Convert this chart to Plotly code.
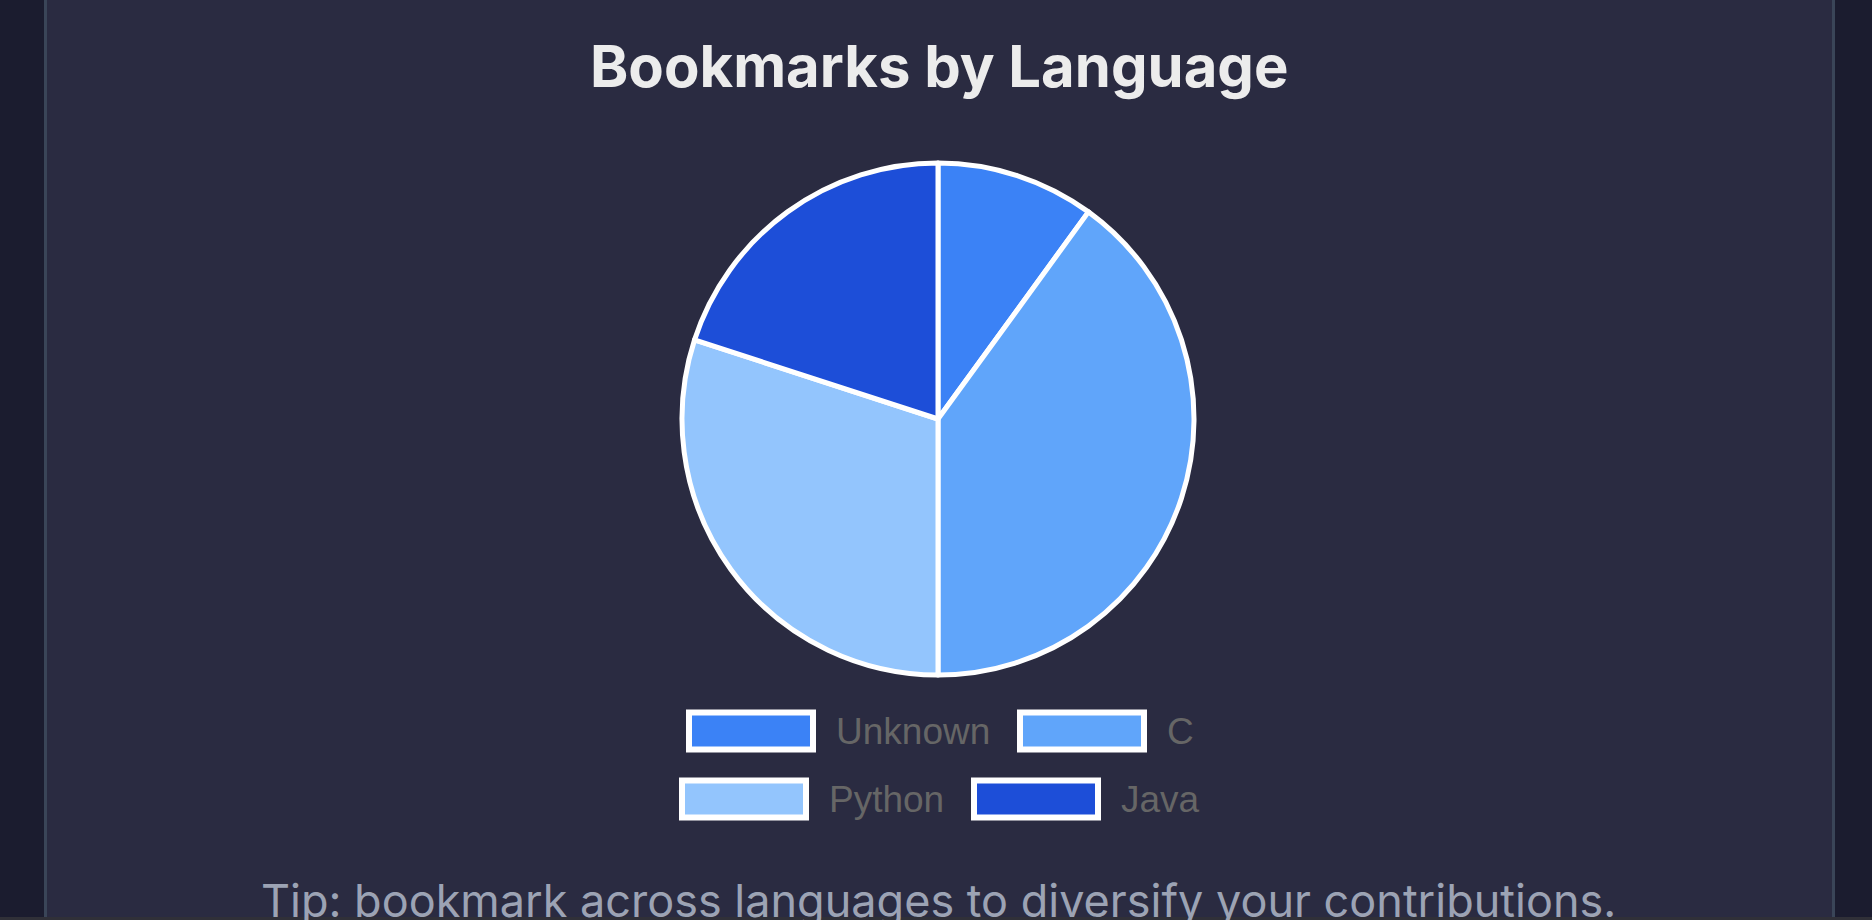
import plotly.graph_objects as go

# ---- data ----
languages = ["Unknown", "C", "Python", "Java"]
bookmarks = [1, 4, 3, 2]
slice_colors = ["#3b82f6", "#60a5fa", "#93c5fd", "#1d4ed8"]

title_text = "Bookmarks by Language"
tip_text = "Tip: bookmark across languages to diversify your contributions."

W, H = 1872, 920

def px(x):
    return x / W

def py(y):
    return 1 - y / H

# pie geometry (pixels)
cx, cy, r = 938, 419, 256

fig = go.Figure()
fig.add_trace(go.Pie(
    labels=languages,
    values=bookmarks,
    sort=False,
    direction="clockwise",
    rotation=0,
    marker=dict(colors=slice_colors, line=dict(color="#ffffff", width=5)),
    textinfo="none",
    hoverinfo="label+value+percent",
    showlegend=False,
    domain=dict(x=[px(cx - r), px(cx + r)], y=[py(cy + r), py(cy - r)]),
))

shapes = []
annotations = []

# card background
shapes.append(dict(type="rect", xref="paper", yref="paper", layer="below",
                   x0=px(45.5), x1=px(1833.5), y0=py(930), y1=py(-10),
                   fillcolor="#2a2b41", line=dict(color="#3a4558", width=3)))
# bottom strip
shapes.append(dict(type="rect", xref="paper", yref="paper", layer="above",
                   x0=0, x1=1, y0=0, y1=py(917),
                   fillcolor="#303038", line=dict(width=0)))

# legend (manual, chart.js style boxes)
legend_layout = [  # (box_left_px, row_center_px) for each language in order
    (689, 731),
    (1020, 731),
    (682, 799),
    (974, 799),
]
box_w, box_h = 124, 37
for lang, col, (bx, by) in zip(languages, slice_colors, legend_layout):
    shapes.append(dict(type="rect", xref="paper", yref="paper", layer="above",
                       x0=px(bx), x1=px(bx + box_w),
                       y0=py(by + box_h / 2), y1=py(by - box_h / 2),
                       fillcolor=col, line=dict(color="#ffffff", width=6)))
    annotations.append(dict(xref="paper", yref="paper", x=px(bx + box_w + 21), y=py(by),
                            xanchor="left", yanchor="middle", showarrow=False,
                            text=lang,
                            font=dict(family="Liberation Sans, Arial, sans-serif",
                                      size=37, color="#666666")))

# title
annotations.append(dict(xref="paper", yref="paper", x=px(939), y=py(66),
                        xanchor="center", yanchor="middle", showarrow=False,
                        text="<b>" + title_text + "</b>",
                        font=dict(family="Inter, sans-serif", size=58, color="#ececec")))
# tip
annotations.append(dict(xref="paper", yref="paper", x=px(938), y=py(900),
                        xanchor="center", yanchor="middle", showarrow=False,
                        text=tip_text,
                        font=dict(family="Inter, sans-serif", size=45, color="#9ca3b4")))

fig.update_layout(
    width=W, height=H,
    margin=dict(l=0, r=0, t=0, b=0),
    paper_bgcolor="#1b1c2f",
    plot_bgcolor="#1b1c2f",
    shapes=shapes,
    annotations=annotations,
    showlegend=False,
)

fig.write_html("out.html", config={"displayModeBar": False},
               post_script="document.body.style.margin='0';document.body.style.overflow='hidden';")
